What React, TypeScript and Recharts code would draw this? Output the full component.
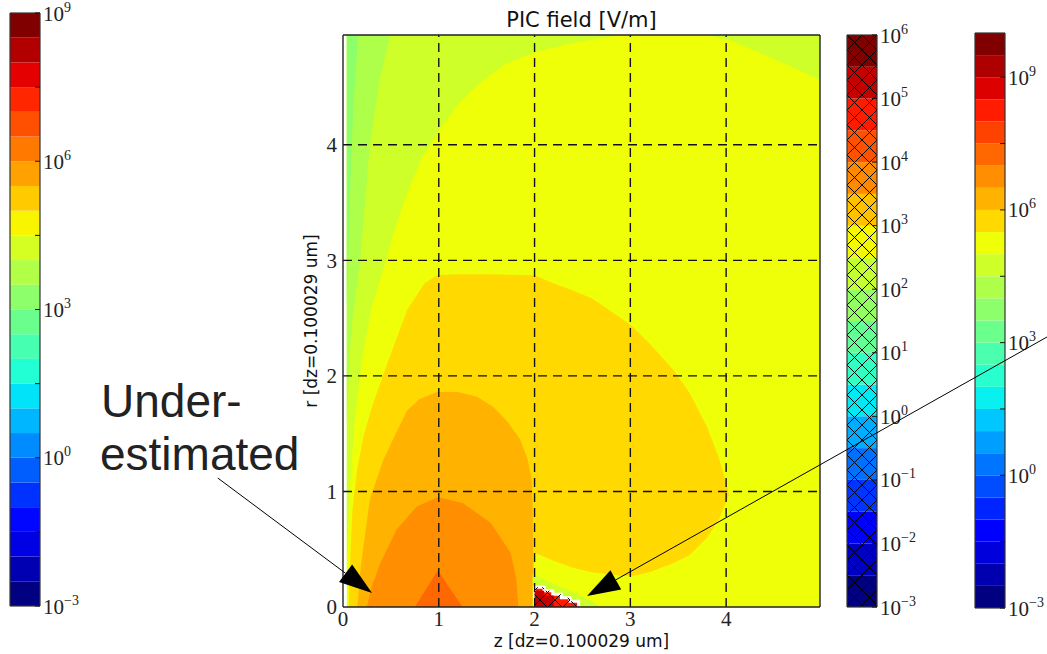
import React from 'react';
import { ComposedChart, Area, XAxis, YAxis, ReferenceLine } from 'recharts';

// ---------- colour levels (log10 of the field) ----------
const leftLevels = [-3, -2.5, -2, -1.5, -1, -0.5, 0, 0.5, 1, 1.5, 2, 2.5, 3, 3.5, 4, 4.5, 5, 5.5, 6, 6.5, 7, 7.5, 8, 8.5, 9];
const leftTicks = [-3, -1.5, 0, 1.5, 3, 4.5, 6, 7.5, 9];
const leftLabels = [-3, 0, 3, 6, 9];

const midLevels = [-3, -2.5, -2, -1.5, -1, -0.5, 0, 0.5, 1, 1.5, 2, 2.5, 3, 3.5, 4, 4.5, 5, 5.5, 6];
const midTicks = [-3, -2, -1, 0, 1, 2, 3, 4, 5, 6];
const midLabels = [-3, -2, -1, 0, 1, 2, 3, 4, 5, 6];

const rightLevels = [-3, -2.5, -2, -1.5, -1, -0.5, 0, 0.5, 1, 1.5, 2, 2.5, 3, 3.5, 4, 4.5, 5, 5.5, 6, 6.5, 7, 7.5, 8, 8.5, 9, 9.5, 10];
const rightTicks = [-3, -1.5, 0, 1.5, 3, 4.5, 6, 7.5, 9];
const rightLabels = [-3, 0, 3, 6, 9];

// ---------- field map axes ----------
const zTicks = [0, 1, 2, 3, 4];
const rTicks = [0, 1, 2, 3, 4];
const zMax = 4.98;
const rMax = 4.95;

// ---------- filled contour regions (z, upper r, optional lower r) ----------
const baseZ = [0.04, 4.98];
const baseHi = [4.95, 4.95];

const tlZ = [0.04, 0.07, 0.12, 0.2, 0.3, 0.45, 0.55, 0.68, 0.82, 1.0, 1.2, 1.45, 1.7, 2.0, 2.4, 2.9];
const tlLo = [0.3, 1.0, 1.6, 2.15, 2.6, 3.0, 3.3, 3.6, 3.88, 4.12, 4.35, 4.55, 4.7, 4.8, 4.88, 4.95];
const tlHi = [4.95, 4.95, 4.95, 4.95, 4.95, 4.95, 4.95, 4.95, 4.95, 4.95, 4.95, 4.95, 4.95, 4.95, 4.95, 4.95];

const trZ = [3.8, 4.05, 4.28, 4.5, 4.75, 4.98];
const trLo = [4.95, 4.9, 4.82, 4.74, 4.65, 4.56];
const trHi = [4.95, 4.95, 4.95, 4.95, 4.95, 4.95];

const s14Z = [0.04, 0.07, 0.1, 0.18, 0.23, 0.28, 0.38, 0.49];
const s14Lo = [1.6, 2.2, 2.5, 3.0, 3.5, 4.0, 4.55, 4.95];
const s14Hi = [4.95, 4.95, 4.95, 4.95, 4.95, 4.95, 4.95, 4.95];

const s13Z = [0.04, 0.06, 0.09, 0.12, 0.16];
const s13Lo = [2.6, 3.2, 4.0, 4.5, 4.95];
const s13Hi = [4.95, 4.95, 4.95, 4.95, 4.95];

const goldZ = [0.06, 0.08, 0.1, 0.15, 0.22, 0.31, 0.46, 0.67, 0.85, 0.98, 1.2, 1.5, 1.98, 2.0, 2.2, 2.4, 2.6, 2.9, 3.03, 3.2, 3.45, 3.62, 3.8, 3.92, 4.01, 4.03];
const goldHi = [0, 0.5, 0.85, 1.2, 1.5, 1.75, 2.1, 2.57, 2.8, 2.87, 2.88, 2.88, 2.87, 2.87, 2.8, 2.74, 2.67, 2.5, 2.42, 2.28, 2.05, 1.85, 1.56, 1.3, 1.05, 0.97];
const goldLo = [0, 0, 0, 0, 0, 0, 0, 0, 0, 0, 0, 0, 0, 0.47, 0.4, 0.34, 0.3, 0.27, 0.27, 0.3, 0.38, 0.45, 0.6, 0.75, 0.93, 0.97];

const loZ = [0.15, 0.18, 0.21, 0.28, 0.42, 0.55, 0.67, 0.8, 0.98, 1.2, 1.4, 1.57, 1.72, 1.85, 1.93, 1.97, 1.98, 1.985];
const loHi = [0, 0.3, 0.5, 0.93, 1.27, 1.5, 1.7, 1.8, 1.86, 1.86, 1.82, 1.73, 1.6, 1.45, 1.27, 1.1, 0.84, 0];

const orZ = [0.25, 0.3, 0.39, 0.56, 0.77, 0.99, 1.25, 1.54, 1.75, 1.81, 1.83];
const orHi = [0, 0.18, 0.38, 0.67, 0.87, 0.95, 0.9, 0.73, 0.47, 0.24, 0];

const doZ = [0.75, 0.88, 0.99, 1.1, 1.25];
const doHi = [0, 0.17, 0.32, 0.18, 0];

const ringZ = [1.98, 2.2, 2.43, 2.6, 2.68];
const ringHi = [0.29, 0.2, 0.12, 0.05, 0];

// over-estimated cells (hatched)
const redZ = [2.0, 2.0, 2.1, 2.19, 2.28, 2.37, 2.46];
const redHi = [0, 0.17, 0.14, 0.11, 0.08, 0.05, 0];
const redCoreZ = [2.0, 2.0, 2.1, 2.2];
const redCoreHi = [0, 0.14, 0.1, 0];

// annotation arrows, in (z, r)
const arrowLeft = [{ x: -1.307, y: 1.116 }, { x: 0.303, y: 0.121 }];
const arrowRight = [{ x: 7.4, y: 2.36 }, { x: 2.548, y: 0.095 }];

// ---------- helpers ----------
const lerpTable = (pts: number[][], t: number) => {
  for (let i = 1; i < pts.length; i++) {
    if (t <= pts[i][0]) {
      const [x0, y0] = pts[i - 1];
      const [x1, y1] = pts[i];
      return y0 + ((t - x0) / (x1 - x0)) * (y1 - y0);
    }
  }
  return pts[pts.length - 1][1];
};
const jet = (t: number) => {
  const r = lerpTable([[0, 0], [0.35, 0], [0.66, 1], [0.89, 1], [1, 0.5]], t);
  const g = lerpTable([[0, 0], [0.125, 0], [0.375, 1], [0.64, 1], [0.91, 0], [1, 0]], t);
  const b = lerpTable([[0, 0.5], [0.11, 1], [0.34, 1], [0.65, 0], [1, 0]], t);
  return `rgb(${Math.round(r * 255)},${Math.round(g * 255)},${Math.round(b * 255)})`;
};
const levelColor = (levels: number[], lo: number) => jet(levels.indexOf(lo) / (levels.length - 2));
const fieldColor = (lo: number) => levelColor(rightLevels, lo);

const rows = (z: number[], hi: number[], lo?: number[]) =>
  z.map((zz, i) => ({ z: zz, v: lo ? [lo[i], hi[i]] : hi[i] }));

const regions = [
  { key: 'base', level: 5, data: rows(baseZ, baseHi) },
  { key: 'tl', level: 4.5, data: rows(tlZ, tlHi, tlLo) },
  { key: 'tr', level: 4.5, data: rows(trZ, trHi, trLo) },
  { key: 's14', level: 4, data: rows(s14Z, s14Hi, s14Lo) },
  { key: 's13', level: 3.5, data: rows(s13Z, s13Hi, s13Lo) },
  { key: 'gold', level: 5.5, data: rows(goldZ, goldHi, goldLo) },
  { key: 'lo', level: 6, data: rows(loZ, loHi) },
  { key: 'or', level: 6.5, data: rows(orZ, orHi) },
  { key: 'do', level: 7, data: rows(doZ, doHi) },
  { key: 'ring', level: 4.5, data: rows(ringZ, ringHi) },
];

const serif = '"Liberation Serif", "DejaVu Serif", serif';
const sans = '"DejaVu Sans", sans-serif';

const expText = (e: number) => (e < 0 ? `\u2212${Math.abs(e)}` : `${e}`);

// one colour band per level interval, drawn as a ranged area over x in [0, 1]
const bandRows = (l: number, h: number) => [{ x: 0, v: [l, h] }, { x: 1, v: [l, h] }];

const makeTick = (labels: number[]) => (props: any) => {
  const { x, y, payload } = props;
  const v = payload.value;
  return (
    <g>
      <line x1={x - 5} x2={x} y1={y} y2={y} stroke="#111" strokeWidth={1} />
      {labels.includes(v) && (
        <text x={x + 3} y={y} dy="0.36em" fontFamily={serif} fontSize={21} fill="#222">
          10
          <tspan dy={-9} fontSize={14}>{expText(v)}</tspan>
        </text>
      )}
    </g>
  );
};

function ColorBar(props: {
  left: number; top: number; bottom: number; levels: number[]; ticks: number[]; labels: number[]; hatchId?: string;
}) {
  const { left, top, bottom, levels, ticks, labels, hatchId } = props;
  const padL = 5;
  const barW = 30;
  const axisW = 45;
  const H = 654;
  const lo = levels[0];
  const hi = levels[levels.length - 1];
  const bands = levels.slice(0, -1).map((l, i) => ({ l, h: levels[i + 1], c: levelColor(levels, l) }));
  return (
    <div style={{ position: 'absolute', left: left - padL, top: 0 }}>
      <ComposedChart width={padL + barW + axisW} height={H} margin={{ top, bottom: H - bottom, left: padL, right: 0 }}>
        {hatchId && (
          <defs>
            <pattern id={hatchId} x={padL} y={top} width={15} height={15} patternUnits="userSpaceOnUse">
              <path d="M0,0 L15,15 M15,0 L0,15" stroke="#000" strokeWidth={1} />
            </pattern>
          </defs>
        )}
        <XAxis type="number" dataKey="x" domain={[0, 1]} hide />
        <YAxis
          type="number"
          orientation="right"
          domain={[lo, hi]}
          ticks={ticks}
          interval={0}
          width={axisW}
          axisLine={false}
          tickLine={false}
          tickSize={0}
          tickMargin={0}
          tick={makeTick(labels)}
        />
        {bands.map((b) => (
          <Area
            key={b.l}
            data={bandRows(b.l, b.h)}
            dataKey="v"
            type="linear"
            fill={b.c}
            fillOpacity={1}
            stroke="none"
            dot={false}
            activeDot={false}
            isAnimationActive={false}
          />
        ))}
        {hatchId && (
          <Area
            data={bandRows(lo, hi)}
            dataKey="v"
            type="linear"
            fill={`url(#${hatchId})`}
            fillOpacity={1}
            stroke="none"
            dot={false}
            activeDot={false}
            isAnimationActive={false}
          />
        )}
        <ReferenceLine x={0} stroke="#333" strokeWidth={1.2} />
        <ReferenceLine x={1} stroke="#333" strokeWidth={1.2} />
        <ReferenceLine y={lo} stroke="#333" strokeWidth={1.2} />
        <ReferenceLine y={hi} stroke="#333" strokeWidth={1.2} />
      </ComposedChart>
    </div>
  );
}

const arrowShape = (props: any) => {
  const { x1, y1, x2, y2 } = props;
  const dx = x2 - x1;
  const dy = y2 - y1;
  const len = Math.hypot(dx, dy) || 1;
  const ux = dx / len;
  const uy = dy / len;
  const hl = 33;
  const hw = 11;
  const bx = x2 - ux * hl;
  const by = y2 - uy * hl;
  const pts = `${x2},${y2} ${bx - uy * hw},${by + ux * hw} ${bx + uy * hw},${by - ux * hw}`;
  return (
    <g>
      <line x1={x1} y1={y1} x2={bx} y2={by} stroke="#000" strokeWidth={1} />
      <polygon points={pts} fill="#000" />
    </g>
  );
};

const mainMargin = { top: 35, right: 227, bottom: 17, left: 303 };

export default function App() {
  const tickStyle = { fontFamily: serif, fontSize: 21, fill: '#222' };
  return (
    <div style={{ position: 'absolute', left: 0, top: 0, width: 1047, height: 654, background: '#fff', overflow: 'hidden' }}>
      <div style={{ position: 'absolute', left: 0, top: 0 }}>
        <ComposedChart width={1047} height={654} margin={mainMargin}>
          <defs>
            <pattern id="fieldHatch" width={15} height={15} patternUnits="userSpaceOnUse">
              <path d="M0,0 L15,15 M15,0 L0,15" stroke="#000" strokeWidth={1} />
            </pattern>
          </defs>
          <XAxis
            type="number"
            dataKey="z"
            domain={[0, zMax]}
            ticks={zTicks}
            interval={0}
            allowDataOverflow
            axisLine={false}
            tickLine={false}
            tickSize={0}
            tickMargin={4}
            height={30}
            tick={tickStyle}
          />
          <YAxis
            type="number"
            domain={[0, rMax]}
            ticks={rTicks}
            interval={0}
            allowDataOverflow
            axisLine={false}
            tickLine={false}
            tickSize={3}
            tickMargin={3}
            width={40}
            tick={tickStyle}
          />
          {regions.map((r) => (
            <Area
              key={r.key}
              data={r.data}
              dataKey="v"
              type="linear"
              fill={fieldColor(r.level)}
              fillOpacity={1}
              stroke="none"
              dot={false}
              activeDot={false}
              isAnimationActive={false}
            />
          ))}
          <Area
            data={rows(redZ, redHi)}
            dataKey="v"
            type="stepAfter"
            fill={levelColor(midLevels, 4.5)}
            fillOpacity={1}
            stroke="#fff"
            strokeWidth={3}
            dot={false}
            activeDot={false}
            isAnimationActive={false}
          />
          <Area
            data={rows(redCoreZ, redCoreHi)}
            dataKey="v"
            type="stepAfter"
            fill={levelColor(midLevels, 5)}
            fillOpacity={1}
            stroke="none"
            dot={false}
            activeDot={false}
            isAnimationActive={false}
          />
          <Area
            data={rows(redZ, redHi)}
            dataKey="v"
            type="stepAfter"
            fill="url(#fieldHatch)"
            fillOpacity={1}
            stroke="none"
            dot={false}
            activeDot={false}
            isAnimationActive={false}
          />
          {zTicks.slice(1).map((t) => (
            <ReferenceLine key={`gz${t}`} x={t} stroke="#111" strokeWidth={1.4} strokeDasharray="9 6" />
          ))}
          {rTicks.slice(1).map((t) => (
            <ReferenceLine key={`gr${t}`} y={t} stroke="#111" strokeWidth={1.4} strokeDasharray="9 6" />
          ))}
          <ReferenceLine x={0} stroke="#222" strokeWidth={1.4} />
          <ReferenceLine x={zMax} stroke="#222" strokeWidth={1.4} />
          <ReferenceLine y={0} stroke="#222" strokeWidth={1.4} />
          <ReferenceLine y={rMax} stroke="#222" strokeWidth={1.4} />
        </ComposedChart>
      </div>

      <ColorBar left={10} top={13} bottom={606} levels={leftLevels} ticks={leftTicks} labels={leftLabels} />
      <ColorBar left={847} top={35} bottom={607} levels={midLevels} ticks={midTicks} labels={midLabels} hatchId="cbHatch" />
      <ColorBar left={975} top={33} bottom={608} levels={rightLevels} ticks={rightTicks} labels={rightLabels} />

      {/* annotation arrows, same scales as the field map, drawn above the colour bars */}
      <div style={{ position: 'absolute', left: 0, top: 0, pointerEvents: 'none' }}>
        <ComposedChart width={1047} height={654} margin={mainMargin}>
          <XAxis type="number" dataKey="z" domain={[0, zMax]} allowDataOverflow hide />
          <YAxis type="number" domain={[0, rMax]} allowDataOverflow width={40} tick={false} axisLine={false} tickLine={false} />
          <XAxis xAxisId="pad" type="number" domain={[0, zMax]} height={30} tick={false} axisLine={false} tickLine={false} />
          <ReferenceLine segment={arrowLeft} ifOverflow="visible" shape={arrowShape} />
          <ReferenceLine segment={arrowRight} ifOverflow="visible" shape={arrowShape} />
        </ComposedChart>
      </div>

      <svg width={1047} height={654} style={{ position: 'absolute', left: 0, top: 0, pointerEvents: 'none' }}>
        <text x={581.5} y={27} textAnchor="middle" fontFamily={sans} fontSize={21} fill="#111">PIC field [V/m]</text>
        <text x={581.5} y={647} textAnchor="middle" fontFamily={sans} fontSize={17} fill="#111">z [dz=0.100029 um]</text>
        <text transform="translate(317,321) rotate(-90)" textAnchor="middle" fontFamily={sans} fontSize={17} fill="#111">r [dz=0.100029 um]</text>
        <text x={101} y={417} fontFamily='"Liberation Sans", Arial, sans-serif' fontSize={46} fill="#222">Under-</text>
        <text x={100} y={470} fontFamily='"Liberation Sans", Arial, sans-serif' fontSize={46} fill="#222">estimated</text>
      </svg>
    </div>
  );
}
